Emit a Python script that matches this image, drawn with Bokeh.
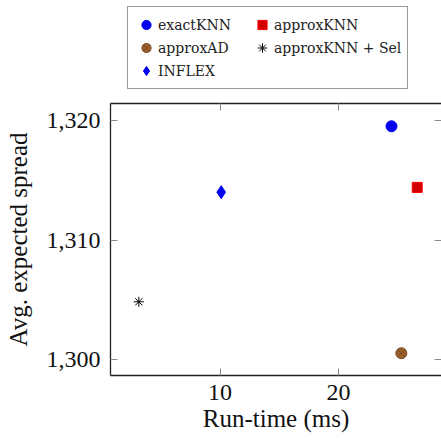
from bokeh.plotting import figure
from bokeh.layouts import column
from bokeh.models import (Range1d, LinearAxis, SingleIntervalTicker, NumeralTickFormatter,
                          Legend, LegendItem, ColumnDataSource)
from bokeh.embed import file_html
from bokeh.resources import INLINE

# ---- data ----
names = ["exactKNN", "approxKNN", "approxAD", "approxKNN + Sel", "INFLEX"]
runtime_ms = [24.47, 26.64, 25.3, 3.15, 10.1]
spread = [1319.5, 1314.4, 1300.56, 1304.85, 1314.0]

x_ticks_interval = 10
y_ticks_interval = 10

SERIF = "Liberation Serif"
LEG_FONT = "DejaVu Serif"

W = 441
LEG_H = 95
MAIN_H = 448 - LEG_H

# ---- main plot ----
p = figure(width=W, height=MAIN_H, output_backend="svg", toolbar_location=None,
           x_range=Range1d(0.76, 28.69), y_range=Range1d(1298.7, 1321.4),
           min_border_left=110, min_border_right=0, min_border_top=8, min_border_bottom=73)
p.outline_line_color = None
p.grid.visible = False
p.background_fill_color = "white"
p.border_fill_color = "white"

styles = [
    dict(marker="circle", size=11, fill_color="#0000ee", line_color="#0000ee", line_width=1),
    dict(marker="square", size=10, fill_color="#d00000", line_color="#ff0000", line_width=1),
    dict(marker="circle_x", size=11, fill_color="#9a5f2c", line_color="#7a4a22", line_width=1),
    dict(marker="asterisk", size=10, fill_color=None, line_color="black", line_width=1),
    dict(marker="diamond", size=13, fill_color="#0000ee", line_color="#0000ee", line_width=1),
]

for i, st in enumerate(styles):
    src = ColumnDataSource(dict(x=[runtime_ms[i]], y=[spread[i]]))
    p.scatter("x", "y", source=src, **st)

def style_axis(ax, labels=True):
    ax.major_tick_in = 7
    ax.major_tick_out = 0
    ax.minor_tick_in = 0
    ax.minor_tick_out = 0
    ax.major_tick_line_color = "#8a8a8a"
    ax.major_tick_line_width = 1
    ax.axis_line_color = "#222222"
    ax.axis_line_width = 1.3
    if labels:
        ax.major_label_text_font = SERIF
        ax.major_label_text_font_size = "24px"
        ax.major_label_text_color = "#111111"
        ax.axis_label_text_font = SERIF
        ax.axis_label_text_font_size = "25px"
        ax.axis_label_text_font_style = "normal"
        ax.axis_label_text_color = "#111111"
    else:
        ax.major_label_text_font_size = "1px"
        ax.major_label_text_color = None
        ax.major_label_standoff = 0

xa = p.xaxis[0]
ya = p.yaxis[0]
xa.ticker = SingleIntervalTicker(interval=x_ticks_interval)
ya.ticker = SingleIntervalTicker(interval=y_ticks_interval)
ya.formatter = NumeralTickFormatter(format="0,0")
style_axis(xa)
style_axis(ya)
xa.axis_label = "Run-time (ms)"
ya.axis_label = "Avg. expected spread"
xa.major_label_standoff = 9
ya.major_label_standoff = 10
xa.axis_label_standoff = 2
ya.axis_label_standoff = 12

top = LinearAxis(ticker=SingleIntervalTicker(interval=x_ticks_interval))
style_axis(top, labels=False)
p.add_layout(top, "above")

right = LinearAxis(ticker=SingleIntervalTicker(interval=y_ticks_interval))
style_axis(right, labels=False)
right.axis_line_color = None
p.add_layout(right, "right")

# ---- legend strip (frames of both figures are aligned by the column) ----
lg = figure(width=W, height=LEG_H, output_backend="svg", toolbar_location=None,
            x_range=Range1d(0, 1), y_range=Range1d(0, 1), min_border=0)
lg.axis.visible = False
lg.grid.visible = False
lg.outline_line_color = None
lg.background_fill_color = "white"
lg.border_fill_color = "white"

# legend fills column-major: col 1 = exactKNN, approxAD, INFLEX; col 2 = approxKNN, approxKNN + Sel
legend_order = [0, 2, 4, 1, 3]
items = []
for i in legend_order:
    # same data, lies outside this strip's ranges so only the legend glyph shows
    r = lg.scatter(x=[runtime_ms[i]], y=[spread[i]], **styles[i])
    items.append(LegendItem(label=names[i], renderers=[r]))

legend = Legend(items=items, ncols=2, location=(17, 6))
legend.label_text_font = LEG_FONT
legend.label_text_font_size = "14px"
legend.label_text_color = "#222222"
legend.glyph_width = 24
legend.glyph_height = 23
legend.label_height = 20
legend.label_standoff = 0
legend.label_width = 92
legend.spacing = 0
legend.padding = 6
legend.margin = 0
legend.border_line_color = "#333333"
legend.border_line_width = 1
legend.background_fill_alpha = 1
lg.add_layout(legend, "center")

layout = column(lg, p, spacing=0)
open("out.html", "w").write(file_html(layout, INLINE))
